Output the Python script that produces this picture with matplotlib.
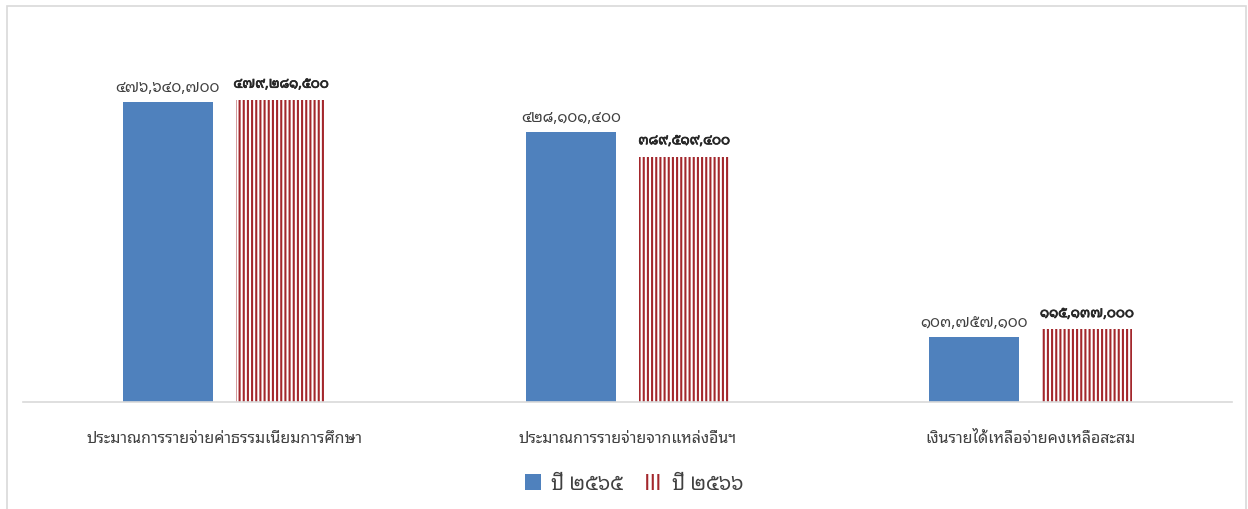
import matplotlib
matplotlib.use("Agg")
import matplotlib.pyplot as plt
from matplotlib.patches import Rectangle, Patch
import matplotlib.patheffects as pe
import numpy as np

categories = ["ประมาณการรายจ่ายค่าธรรมเนียมการศึกษา",
              "ประมาณการรายจ่ายจากแหล่งอื่นฯ",
              "เงินรายได้เหลือจ่ายคงเหลือสะสม"]
series_names = ["ปี ๒๕๖๕", "ปี ๒๕๖๖"]
values_2565 = [476640700, 428101400, 103757100]
values_2566 = [479281500, 389519400, 115137000]

FONT = "Noto Sans Thai Looped"
plt.rcParams["font.family"] = [FONT, "DejaVu Sans"]
plt.rcParams["hatch.linewidth"] = 1.5

THAI_DIGITS = str.maketrans("0123456789", "๐๑๒๓๔๕๖๗๘๙")
def thai_num(v):
    return f"{v:,}".translate(THAI_DIGITS)

BLUE = "#4f81bd"
RED = "#a3272c"

W, H = 1248, 510
fig = plt.figure(figsize=(W/100, H/100), dpi=100)
fig.patches.append(Rectangle((7/W, -0.02), (1246-7)/W, 1.02 - 7/H,
                             transform=fig.transFigure, fill=False,
                             edgecolor="#d9d9d9", linewidth=1.2))

ax = fig.add_axes([23/W, 1-403/H, (1232-23)/W, (403-25)/H])
x = np.arange(len(categories))
bw = 0.2235
off = 0.1405
b1 = ax.bar(x - off, values_2565, bw, color=BLUE, edgecolor="none", label=series_names[0])
b2 = ax.bar(x + off, values_2566, bw, color="white", edgecolor=RED, hatch="||||",
            linewidth=0, label=series_names[1])

ax.set_xlim(-0.5, 2.5)
ax.set_ylim(0, 600e6)
for s in ["top", "right", "left"]:
    ax.spines[s].set_visible(False)
ax.spines["bottom"].set_color("#d9d9d9")
ax.spines["bottom"].set_linewidth(1.2)
ax.set_yticks([])
ax.set_xticks(x)
ax.set_xticklabels(categories, fontsize=11.5, color="#404040")
ax.tick_params(axis="x", length=0, pad=20)

for rect, v in zip(b1, values_2565):
    ax.annotate(thai_num(v), (rect.get_x() + rect.get_width()/2, v),
                xytext=(0, 5), textcoords="offset points", ha="center", va="bottom",
                fontsize=11, color="#404040")
for rect, v in zip(b2, values_2566):
    ax.annotate(thai_num(v), (rect.get_x() + rect.get_width()/2, v),
                xytext=(0, 6), textcoords="offset points", ha="center", va="bottom",
                fontsize=10, color="#262626", fontweight="bold",
                path_effects=[pe.withStroke(linewidth=0.5, foreground="#262626")])

handles = [Patch(facecolor=BLUE, edgecolor="none"),
           Patch(facecolor="white", edgecolor=RED, hatch="|||", linewidth=0)]
fig.legend(handles, series_names, loc="center", bbox_to_anchor=(634/W, 1-485/H),
           ncol=2, frameon=False, fontsize=14.5, handlelength=0.8, handleheight=0.8,
           columnspacing=1.1, handletextpad=0.5, labelcolor="#404040")

fig.savefig("out.png", dpi=100)
